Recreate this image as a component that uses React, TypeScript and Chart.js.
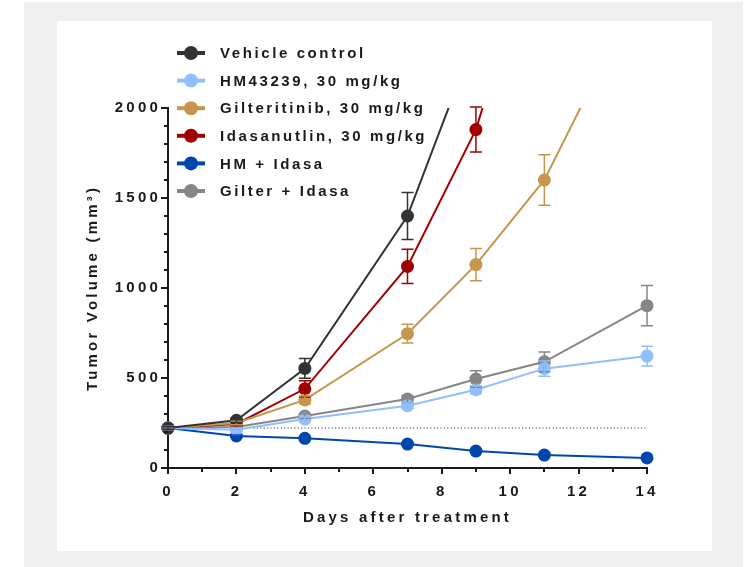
import React, { useEffect, useRef } from 'react';
import { Chart, registerables } from 'chart.js';

Chart.register(...registerables);

// ---- Data ----
const seriesLabels = [
  'Vehicle control',
  'HM43239, 30 mg/kg',
  'Gilteritinib, 30 mg/kg',
  'Idasanutlin, 30 mg/kg',
  'HM + Idasa',
  'Gilter + Idasa',
];
const seriesColors = ['#333333', '#91beff', '#c8954c', '#a10000', '#0047ad', '#868686'];

const vehicleDays = [0, 2, 4, 7, 9];
const vehicleMean = [222, 265, 553, 1400, 2400];
const vehicleSem = [8, 12, 55, 130, 0];

const hmDays = [0, 2, 4, 7, 9, 11, 14];
const hmMean = [222, 212, 272, 346, 435, 552, 622];
const hmSem = [8, 8, 12, 15, 22, 42, 55];

const giltDays = [0, 2, 4, 7, 9, 11, 14];
const giltMean = [222, 250, 378, 746, 1130, 1600, 2740];
const giltSem = [8, 10, 22, 52, 90, 140, 0];

const idasDays = [0, 2, 4, 7, 9, 11];
const idasMean = [222, 245, 440, 1120, 1880, 3120];
const idasSem = [8, 10, 45, 95, 125, 0];

const hmIdasDays = [0, 2, 4, 7, 9, 11, 14];
const hmIdasMean = [222, 178, 165, 133, 94, 72, 56];
const hmIdasSem = [6, 6, 6, 6, 6, 6, 6];

const giltIdasDays = [0, 2, 4, 7, 9, 11, 14];
const giltIdasMean = [222, 228, 289, 383, 494, 590, 902];
const giltIdasSem = [8, 8, 12, 20, 46, 55, 112];

const baselineDays = [2.5, 14];
const baselineValue = [222, 222];

const xTicks = [0, 2, 4, 6, 8, 10, 12, 14];
const yTicks = [0, 500, 1000, 1500, 2000];

const seriesDays = [vehicleDays, hmDays, giltDays, idasDays, hmIdasDays, giltIdasDays];
const seriesMean = [vehicleMean, hmMean, giltMean, idasMean, hmIdasMean, giltIdasMean];
const seriesSem = [vehicleSem, hmSem, giltSem, idasSem, hmIdasSem, giltIdasSem];

const FONT = "'Liberation Sans', Arial, sans-serif";
const INK = '#1a1a1a';

const spacingPlugin = {
  id: 'spacing',
  beforeDraw(chart: any) {
    chart.ctx.letterSpacing = '3.2px';
  },
};

const errorBarPlugin = {
  id: 'errorBars',
  afterDatasetsDraw(chart: any) {
    const ctx = chart.ctx;
    const xs = chart.scales.x;
    const ys = chart.scales.y;
    const area = chart.chartArea;
    ctx.save();
    ctx.beginPath();
    ctx.rect(area.left - 20, area.top - 2, area.right - area.left + 40, area.bottom - area.top + 20);
    ctx.clip();
    for (let s = seriesDays.length - 1; s >= 0; s--) {
      ctx.strokeStyle = seriesColors[s];
      ctx.lineWidth = 1.5;
      for (let i = 0; i < seriesDays[s].length; i++) {
        const e = seriesSem[s][i];
        if (!e) continue;
        const x = xs.getPixelForValue(seriesDays[s][i]);
        const yHi = ys.getPixelForValue(seriesMean[s][i] + e);
        const yLo = ys.getPixelForValue(seriesMean[s][i] - e);
        ctx.beginPath();
        ctx.moveTo(x, yHi);
        ctx.lineTo(x, yLo);
        ctx.moveTo(x - 6, yHi);
        ctx.lineTo(x + 6, yHi);
        ctx.moveTo(x - 6, yLo);
        ctx.lineTo(x + 6, yLo);
        ctx.stroke();
      }
    }
    ctx.restore();
  },
};

const axisTicksPlugin = {
  id: 'axisTicks',
  afterDraw(chart: any) {
    const ctx = chart.ctx;
    const xs = chart.scales.x;
    const ys = chart.scales.y;
    const area = chart.chartArea;
    ctx.save();
    ctx.strokeStyle = INK;
    ctx.lineWidth = 2;
    ctx.beginPath();
    for (let v = 0; v <= 2000; v += 100) {
      const y = Math.round(ys.getPixelForValue(v));
      const len = v % 500 === 0 ? 7 : 4;
      ctx.moveTo(area.left, y);
      ctx.lineTo(area.left - len, y);
    }
    for (let d = 0; d <= 14; d += 1) {
      const x = Math.round(xs.getPixelForValue(d));
      const len = d % 2 === 0 ? 6 : 4;
      ctx.moveTo(x, area.bottom);
      ctx.lineTo(x, area.bottom + len);
    }
    ctx.stroke();

    // legend
    ctx.letterSpacing = '2.6px';
    ctx.font = `bold 15px ${FONT}`;
    ctx.textBaseline = 'middle';
    ctx.textAlign = 'left';
    for (let i = 0; i < seriesLabels.length; i++) {
      const cy = 32 + i * 27.6;
      ctx.strokeStyle = seriesColors[i];
      ctx.fillStyle = seriesColors[i];
      ctx.lineWidth = 4;
      ctx.beginPath();
      ctx.moveTo(120, cy);
      ctx.lineTo(148, cy);
      ctx.stroke();
      ctx.beginPath();
      ctx.arc(134, cy, 7, 0, Math.PI * 2);
      ctx.fill();
      ctx.fillStyle = INK;
      ctx.fillText(seriesLabels[i], 163, cy + 1);
    }
    ctx.restore();
  },
};

export default function App() {
  const ref = useRef<HTMLCanvasElement | null>(null);

  useEffect(() => {
    if (!ref.current) return;
    const datasets: any[] = seriesLabels.map((label, s) => ({
      label,
      data: seriesDays[s].map((d, i) => ({ x: d, y: seriesMean[s][i] })),
      borderColor: seriesColors[s],
      backgroundColor: seriesColors[s],
      borderWidth: 2,
      pointRadius: 6.5,
      pointHoverRadius: 6.5,
      pointBorderWidth: 0,
      tension: 0,
      clip: { left: 12, right: 12, top: 0, bottom: 12 },
    }));
    datasets.push({
      label: 'baseline',
      data: baselineDays.map((d, i) => ({ x: d, y: baselineValue[i] })),
      borderColor: INK,
      borderWidth: 1,
      borderDash: [1, 2.4],
      pointRadius: 0,
      order: 10,
    });

    const chart = new Chart(ref.current, {
      type: 'line',
      data: { datasets },
      options: {
        responsive: false,
        animation: false,
        events: [],
        layout: { padding: { left: 0, right: 65, top: 87, bottom: 0 } },
        plugins: {
          legend: { display: false },
          tooltip: { enabled: false },
        },
        scales: {
          x: {
            type: 'linear',
            min: 0,
            max: 14,
            afterFit: (scale: any) => {
              scale.height = 83;
            },
            afterBuildTicks: (scale: any) => {
              scale.ticks = xTicks.map((v) => ({ value: v }));
            },
            grid: { display: false, drawTicks: false },
            border: { display: true, color: INK, width: 2 },
            ticks: {
              color: INK,
              padding: 15,
              maxRotation: 0,
              callback: (v: any) => String(v),
              font: { family: FONT, size: 15, weight: 'bold' },
            },
            title: {
              display: true,
              text: 'Days after treatment',
              color: INK,
              padding: { top: 0, bottom: 24 },
              font: { family: FONT, size: 15, weight: 'bold' },
            },
          },
          y: {
            type: 'linear',
            min: 0,
            max: 2000,
            afterFit: (scale: any) => {
              scale.width = 111;
            },
            afterBuildTicks: (scale: any) => {
              scale.ticks = yTicks.map((v) => ({ value: v }));
            },
            grid: { display: false, drawTicks: false },
            border: { display: true, color: INK, width: 2 },
            ticks: {
              color: INK,
              padding: 7,
              callback: (v: any) => String(v),
              font: { family: FONT, size: 15, weight: 'bold' },
            },
            title: {
              display: true,
              text: 'Tumor Volume (mm³)',
              color: INK,
              padding: { top: 27, bottom: 0 },
              font: { family: FONT, size: 15, weight: 'bold' },
            },
          },
        },
      },
      plugins: [spacingPlugin, errorBarPlugin, axisTicksPlugin],
    } as any);
    return () => chart.destroy();
  }, []);

  return (
    <div style={{ position: 'absolute', left: 0, top: 0, width: 751, height: 567, background: '#ffffff', overflow: 'hidden' }}>
      <div style={{ position: 'absolute', left: 24, top: 2, width: 719, height: 565, background: '#f0f0f0' }}>
        <div style={{ position: 'absolute', left: 33, top: 19, width: 655, height: 530, background: '#ffffff' }}>
          <canvas ref={ref} width={655} height={530} style={{ display: 'block', width: 655, height: 530 }} />
        </div>
      </div>
    </div>
  );
}
